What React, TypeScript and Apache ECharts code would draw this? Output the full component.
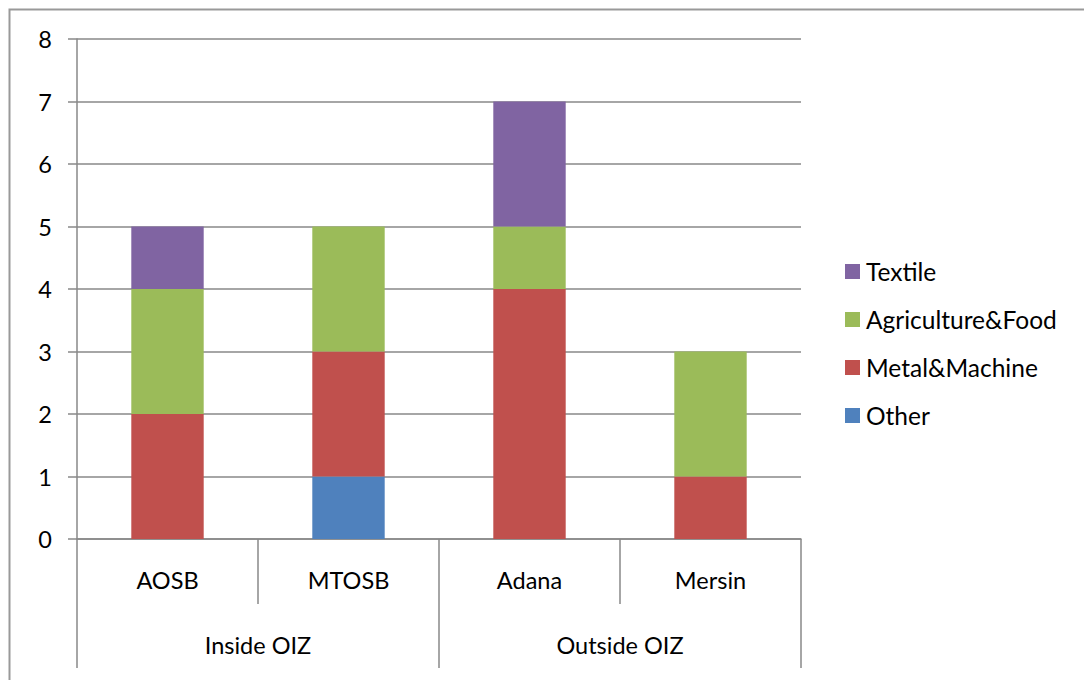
import React, { useEffect, useRef } from "react";
import * as echarts from "echarts";

// Sites and their grouping
const sites = ["AOSB", "MTOSB", "Adana", "Mersin"];
const groups = ["Inside OIZ", "Outside OIZ"];

// Number of firms per sector at each site (stacked bottom to top)
const other = [0, 1, 0, 0];
const metalMachine = [2, 2, 4, 1];
const agricultureFood = [2, 2, 1, 2];
const textile = [1, 0, 2, 0];

const yTicks = [0, 1, 2, 3, 4, 5, 6, 7, 8];

const FONT = "Lato, 'Open Sans', sans-serif";
const GRID = "#888888";

export default function App() {
  const ref = useRef<HTMLDivElement>(null);

  useEffect(() => {
    if (!ref.current) return;
    const chart = echarts.init(ref.current, undefined, { renderer: "svg" });

    const bar = (name: string, data: number[], color: string) => ({
      name,
      type: "bar",
      stack: "total",
      data,
      barWidth: "40%",
      itemStyle: { color },
      xAxisIndex: 0,
      yAxisIndex: 0,
    });

    chart.setOption({
      animation: false,
      backgroundColor: "#ffffff",
      textStyle: { fontFamily: FONT, color: "#000" },
      grid: { left: 77, right: 283, top: 39, bottom: 141, containLabel: false },
      legend: {
        orient: "vertical",
        left: 845,
        top: 259,
        padding: 0,
        itemWidth: 15,
        itemHeight: 15,
        itemGap: 23,
        icon: "rect",
        textStyle: { fontFamily: FONT, fontSize: 24.5, color: "#000", padding: [0, 0, 0, 1] },
        data: ["Textile", "Agriculture&Food", "Metal&Machine", "Other"],
      },
      xAxis: [
        {
          type: "category",
          data: sites,
          position: "bottom",
          axisLine: { show: true, lineStyle: { color: GRID, width: 1.5 } },
          axisTick: { show: true, interval: 0, length: 65, lineStyle: { color: GRID, width: 1.5 } },
          axisLabel: { interval: 0, margin: 29, fontSize: 23.5, color: "#000", fontFamily: FONT },
        },
        {
          type: "category",
          data: groups,
          position: "bottom",
          offset: 65,
          axisLine: { show: false },
          axisTick: { show: true, interval: 0, length: 64, lineStyle: { color: GRID, width: 1.5 } },
          axisLabel: { interval: 0, margin: 29, fontSize: 23.5, color: "#000", fontFamily: FONT },
        },
      ],
      yAxis: {
        type: "value",
        min: yTicks[0],
        max: yTicks[yTicks.length - 1],
        interval: 1,
        axisLine: { show: true, lineStyle: { color: GRID, width: 1.5 } },
        axisTick: { show: true, length: 9, lineStyle: { color: GRID, width: 1.5 } },
        axisLabel: { margin: 25, fontSize: 23.5, color: "#000", fontFamily: FONT },
        splitLine: { show: true, lineStyle: { color: GRID, width: 1.5 } },
      },
      series: [
        bar("Other", other, "#4F81BD"),
        bar("Metal&Machine", metalMachine, "#C0504D"),
        bar("Agriculture&Food", agricultureFood, "#9BBB59"),
        bar("Textile", textile, "#8064A2"),
      ],
      graphic: [
        {
          type: "rect",
          shape: { x: 9.5, y: 9.5, width: 1100, height: 700 },
          style: { fill: "none", stroke: "#999999", lineWidth: 2 },
          silent: true,
        },
      ],
    });

    return () => chart.dispose();
  }, []);

  return (
    <div
      ref={ref}
      style={{ position: "absolute", left: 0, top: 0, width: 1084, height: 680 }}
    />
  );
}
